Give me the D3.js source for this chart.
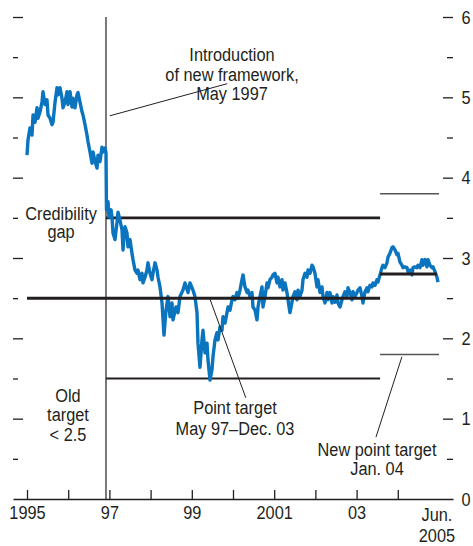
<!DOCTYPE html>
<html>
<head>
<meta charset="utf-8">
<script src="https://cdn.jsdelivr.net/npm/d3@7"></script>
<style>
  body { margin: 0; background: #fff; }
  svg text { font-family: "Liberation Sans", Arial, sans-serif; font-size: 19px; fill: #231f20; }
</style>
</head>
<body>
<div id="chart"></div>
<script>
var years = [
  1995.500,1995.524,1995.573,1995.621,1995.646,1995.694,1995.743,1995.767,1995.816,1995.864,
  1995.888,1995.937,1995.985,1996.010,1996.058,1996.107,1996.131,1996.180,1996.228,1996.252,
  1996.301,1996.349,1996.374,1996.422,1996.471,1996.495,1996.544,1996.592,1996.616,1996.665,
  1996.713,1996.738,1996.786,1996.835,1996.859,1996.908,1996.956,1996.980,1997.029,1997.078,
  1997.102,1997.150,1997.199,1997.223,1997.272,1997.320,1997.344,1997.393,1997.417,1997.429,
  1997.442,1997.466,1997.490,1997.539,1997.563,1997.587,1997.636,1997.684,1997.709,1997.757,
  1997.806,1997.830,1997.879,1997.927,1997.951,1998.000,1998.048,1998.073,1998.121,1998.170,
  1998.194,1998.243,1998.291,1998.315,1998.364,1998.412,1998.437,1998.485,1998.534,1998.558,
  1998.607,1998.655,1998.680,1998.728,1998.777,1998.825,1998.874,1998.922,1998.971,1999.019,
  1999.043,1999.116,1999.165,1999.213,1999.286,1999.335,1999.408,1999.456,1999.529,1999.577,
  1999.626,1999.650,1999.699,1999.747,1999.772,1999.820,1999.869,1999.893,1999.942,1999.990,
  2000.014,2000.063,2000.111,2000.136,2000.184,2000.233,2000.257,2000.306,2000.354,2000.379,
  2000.427,2000.476,2000.500,2000.548,2000.597,2000.621,2000.670,2000.718,2000.743,2000.791,
  2000.840,2000.864,2000.912,2000.961,2000.985,2001.034,2001.082,2001.107,2001.155,2001.204,
  2001.228,2001.277,2001.325,2001.349,2001.398,2001.446,2001.471,2001.519,2001.568,2001.592,
  2001.641,2001.689,2001.713,2001.762,2001.810,2001.835,2001.883,2001.932,2001.956,2002.005,
  2002.053,2002.078,2002.126,2002.175,2002.199,2002.248,2002.296,2002.320,2002.369,2002.417,
  2002.442,2002.490,2002.539,2002.563,2002.612,2002.660,2002.684,2002.733,2002.781,2002.806,
  2002.854,2002.903,2002.927,2002.976,2003.024,2003.049,2003.097,2003.146,2003.170,2003.218,
  2003.267,2003.291,2003.340,2003.388,2003.413,2003.461,2003.510,2003.534,2003.583,2003.631,
  2003.655,2003.704,2003.752,2003.777,2003.825,2003.874,2003.898,2003.946,2003.995,2004.019,
  2004.068,2004.116,2004.140,2004.189,2004.237,2004.262,2004.310,2004.359,2004.383,2004.432,
  2004.480,2004.504,2004.553,2004.601,2004.626,2004.674,2004.723,2004.747,2004.796,2004.844,
  2004.869,2004.917,2004.965,2004.990,2005.038,2005.087,2005.111,2005.160,2005.208,2005.233,
  2005.281,2005.330,2005.354,2005.403,2005.451,2005.476
];
var rates = [
  4.28,4.47,4.62,4.53,4.78,4.69,4.87,4.74,4.82,4.94,
  5.07,4.91,4.97,4.78,4.74,4.66,4.69,4.94,5.12,5.03,
  5.12,4.99,4.87,4.94,5.07,4.91,5.07,4.88,4.99,4.87,
  5.03,5.06,4.94,4.82,4.78,4.66,4.53,4.45,4.32,4.18,
  4.32,4.20,4.12,4.28,4.20,4.38,4.32,4.37,4.31,3.60,
  3.64,3.70,3.51,3.60,3.51,3.31,3.23,3.44,3.57,3.47,
  3.35,3.10,3.39,3.31,3.14,3.23,3.06,2.98,2.85,2.81,
  2.85,2.73,2.81,2.69,2.76,2.85,2.94,2.81,2.73,2.81,
  2.94,2.85,2.76,2.64,2.44,2.04,2.35,2.52,2.27,2.44,
  2.23,2.39,2.32,2.52,2.60,2.69,2.57,2.69,2.60,2.52,
  2.32,1.94,1.64,1.98,2.10,1.82,1.94,1.73,1.48,1.61,
  1.77,1.98,2.07,1.98,2.14,2.10,2.27,2.19,2.32,2.39,
  2.35,2.48,2.52,2.48,2.57,2.50,2.60,2.73,2.79,2.64,
  2.57,2.60,2.52,2.57,2.39,2.35,2.23,2.39,2.52,2.64,
  2.39,2.52,2.69,2.63,2.73,2.76,2.79,2.81,2.69,2.76,
  2.64,2.73,2.60,2.69,2.57,2.48,2.32,2.45,2.52,2.58,
  2.48,2.60,2.52,2.60,2.73,2.81,2.76,2.85,2.81,2.91,
  2.89,2.81,2.64,2.73,2.57,2.64,2.52,2.44,2.57,2.48,
  2.57,2.44,2.52,2.45,2.54,2.44,2.39,2.48,2.52,2.58,
  2.52,2.63,2.57,2.48,2.58,2.52,2.57,2.60,2.63,2.52,
  2.44,2.58,2.63,2.58,2.66,2.64,2.69,2.66,2.73,2.70,
  2.79,2.88,2.91,2.88,2.94,3.01,3.06,3.13,3.14,3.10,
  3.04,3.06,2.95,2.91,2.88,2.89,2.88,2.83,2.85,2.79,
  2.88,2.89,2.88,2.91,2.88,2.98,2.91,2.98,2.89,2.98,
  2.91,2.88,2.89,2.83,2.76,2.70
];

// targets and key dates
var seriesStart = 1995.5, frameworkDate = 1997.417, newTargetDate = 2004.07, seriesEnd = 2005.45;
var oldTarget = 2.5;
var pointTarget = 2.5, pointBand = [1.5, 3.5];
var newTarget = 2.8, newBand = [1.8, 3.8];

// ticks
var yearTicks  = [1995.5,1996.5,1997.5,1998.5,1999.5,2000.5,2001.5,2002.5,2003.5,2004.5];
var yearLabels = ["1995","","97","","99","","2001","","03",""];
var majorTicks = [1,2,3,4,5,6];
var minorTicks = [0.5,1.5,2.5,3.5,4.5,5.5];
var valueLabels = [0,1,2,3,4,5,6];

(function() {
  var width = 473, height = 546;
  var ink = "#231f20", blue = "#0b74bf";
  var squeeze = "scale(0.86,1)";   // narrow type, no condensed face installed

  var svg = d3.select("#chart").append("svg")
              .attr("width", width)
              .attr("height", height);

  var x = d3.scaleLinear().domain([1995.16, 2005.84]).range([13, 453]);
  var y = d3.scaleLinear().domain([0, 6]).range([499, 17]);

  function clean(g) {
    g.select(".domain").remove();
    g.selectAll(".tick line").attr("stroke", ink).attr("stroke-width", 1.3);
  }

  // tick marks on the left edge (no labels)
  svg.append("g").attr("transform", "translate(13,0)")
     .call(d3.axisRight(y).tickValues(majorTicks).tickSize(10).tickFormat(""))
     .call(clean);
  svg.append("g").attr("transform", "translate(13,0)")
     .call(d3.axisRight(y).tickValues(minorTicks).tickSize(5).tickFormat(""))
     .call(clean);

  // tick marks on the right edge, pointing inwards
  svg.append("g").attr("transform", "translate(453,0)")
     .call(d3.axisLeft(y).tickValues(majorTicks).tickSize(10).tickFormat(""))
     .call(clean);
  svg.append("g").attr("transform", "translate(453,0)")
     .call(d3.axisLeft(y).tickValues(minorTicks).tickSize(6).tickFormat(""))
     .call(clean);

  // right labels
  svg.append("g").attr("transform", "translate(453,0)")
     .call(d3.axisRight(y).tickValues(valueLabels).tickSize(0).tickPadding(10).tickFormat(d3.format("d")))
     .call(function(g) { g.select(".domain").remove(); })
     .selectAll("text").attr("fill", ink).style("font-size", "19px").attr("transform", squeeze);

  // x axis
  svg.append("g").attr("transform", "translate(0," + y(0) + ")")
     .call(d3.axisBottom(x).tickValues(yearTicks).tickSize(-9).tickSizeOuter(0).tickPadding(7)
           .tickFormat(function(d, i) { return yearLabels[i]; }))
     .call(function(g) {
        g.select(".domain").attr("stroke", ink).attr("stroke-width", 1.3);
        g.selectAll(".tick line").attr("stroke", ink).attr("stroke-width", 1.3);
        g.selectAll("text").attr("fill", ink).style("font-size", "19px").attr("transform", squeeze);
     });

  function hline(v, t0, t1, color, w) {
    svg.append("line")
       .attr("x1", x(t0)).attr("x2", x(t1))
       .attr("y1", y(v)).attr("y2", y(v))
       .attr("stroke", color).attr("stroke-width", w);
  }

  // new framework
  svg.append("line")
     .attr("x1", x(frameworkDate)).attr("x2", x(frameworkDate))
     .attr("y1", y(6)).attr("y2", y(0))
     .attr("stroke", ink).attr("stroke-width", 1.2);

  // band edges under the series
  hline(pointBand[1], frameworkDate, newTargetDate, ink, 2.7);
  hline(pointBand[0], frameworkDate, newTargetDate, ink, 2.2);
  hline(newBand[1], newTargetDate, seriesEnd + 0.05, "#555", 1.5);
  hline(newBand[0], newTargetDate, seriesEnd + 0.05, "#555", 1.5);

  // the series
  var line = d3.line()
               .x(function(d) { return x(d[0]); })
               .y(function(d) { return y(d[1]); });

  svg.append("path")
     .datum(d3.zip(years, rates))
     .attr("d", line)
     .attr("fill", "none")
     .attr("stroke", blue)
     .attr("stroke-width", 3.4)
     .attr("stroke-linejoin", "round");

  // targets on top
  hline(oldTarget, seriesStart, frameworkDate, ink, 3);
  hline(pointTarget, frameworkDate, newTargetDate, ink, 3);
  hline(newTarget, newTargetDate, seriesEnd, ink, 3);

  // leader lines
  function leader(t0, v0, t1, v1) {
    svg.append("line")
       .attr("x1", x(t0)).attr("y1", y(v0))
       .attr("x2", x(t1)).attr("y2", y(v1))
       .attr("stroke", ink).attr("stroke-width", 1);
  }
  leader(1997.51, 4.77, 2000.36, 5.17);
  leader(1999.94, 2.49, 2000.81, 1.26);
  leader(2003.97, 0.77, 2004.60, 1.77);

  // annotations
  function label(lines, cx, baselines) {
    lines.forEach(function(s, i) {
      svg.append("text")
         .attr("transform", "translate(" + cx + "," + baselines[i] + ") " + squeeze)
         .attr("text-anchor", "middle")
         .text(s);
    });
  }
  label(["Introduction", "of new framework,", "May 1997"], 232, [61, 81, 100]);
  label(["Credibility", "gap"], 61, [220, 238]);
  label(["Old", "target", "< 2.5"], 68, [402, 421, 441]);
  label(["Point target", "May 97\u2013Dec. 03"], 235, [414, 435]);
  label(["New point target", "Jan. 04"], 377, [456, 475]);
  label(["Jun.", "2005"], x(seriesEnd), [521, 542]);
})();
</script>
</body>
</html>
